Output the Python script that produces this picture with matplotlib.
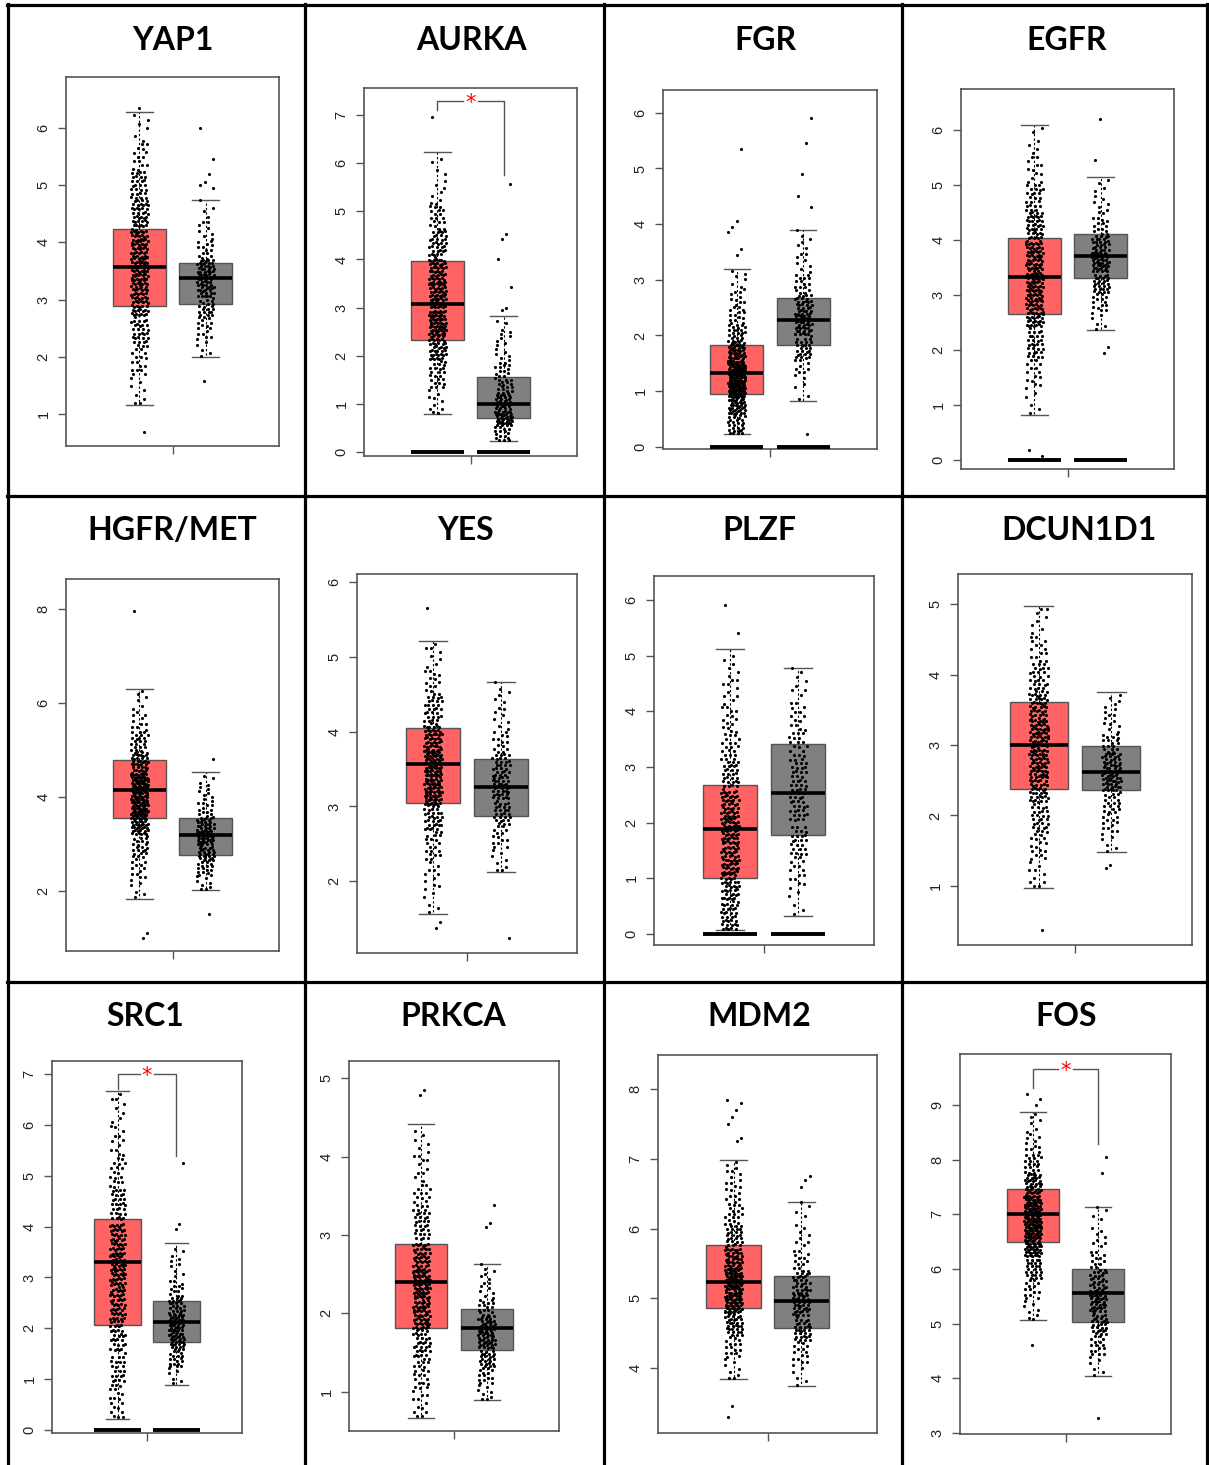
#!/usr/bin/env python3
import matplotlib
matplotlib.use("Agg")
import matplotlib.pyplot as plt

W, H = 1209, 1465

GENES = ["YAP1", "AURKA", "FGR", "EGFR",
         "HGFR/MET", "YES", "PLZF", "DCUN1D1",
         "SRC1", "PRKCA", "MDM2", "FOS"]

# box stats: (whisker low, q1, median, q3, whisker high)
TUMOR_STATS = [
    (1.16, 2.88, 3.57, 4.24, 6.28),
    (0.79, 2.33, 3.07, 3.96, 6.23),
    (0.23, 0.94, 1.33, 1.83, 3.20),
    (0.82, 2.65, 3.33, 4.04, 6.09),
    (1.83, 3.55, 4.15, 4.79, 6.30),
    (1.56, 3.05, 3.57, 4.05, 5.21),
    (0.07, 1.00, 1.89, 2.68, 5.12),
    (0.97, 2.37, 3.00, 3.61, 4.97),
    (0.22, 2.06, 3.31, 4.16, 6.67),
    (0.67, 1.81, 2.40, 2.89, 4.41),
    (3.84, 4.86, 5.23, 5.76, 6.99),
    (5.07, 6.49, 7.00, 7.46, 8.87),
]
NORMAL_STATS = [
    (1.99, 2.93, 3.38, 3.64, 4.74),
    (0.23, 0.71, 1.00, 1.56, 2.82),
    (0.83, 1.82, 2.28, 2.68, 3.90),
    (2.36, 3.31, 3.71, 4.11, 5.15),
    (2.02, 2.76, 3.20, 3.55, 4.53),
    (2.13, 2.87, 3.26, 3.64, 4.67),
    (0.32, 1.78, 2.54, 3.42, 4.78),
    (1.48, 2.36, 2.62, 2.98, 3.75),
    (0.89, 1.73, 2.12, 2.54, 3.67),
    (0.89, 1.53, 1.81, 2.06, 2.63),
    (3.74, 4.57, 4.96, 5.32, 6.38),
    (4.04, 5.03, 5.56, 6.00, 7.13),
]

# estimated dot counts in equal bins between the whiskers (low -> high)
TUMOR_COUNTS = [
    [8, 16, 32, 48, 58, 54, 40, 28, 14, 6],
    [10, 22, 44, 58, 52, 48, 34, 18, 8, 4],
    [24, 42, 78, 64, 42, 24, 14, 10, 6],
    [6, 14, 30, 50, 56, 54, 42, 24, 12, 6],
    [6, 12, 22, 46, 62, 64, 40, 22, 10, 6],
    [6, 10, 18, 34, 60, 64, 48, 28, 14, 8],
    [34, 40, 48, 52, 44, 30, 20, 14, 10, 6],
    [10, 16, 28, 42, 52, 54, 42, 26, 14, 8],
    [16, 24, 34, 46, 54, 48, 30, 18, 12, 8],
    [12, 20, 34, 52, 58, 46, 28, 18, 10, 6],
    [8, 16, 34, 58, 60, 44, 28, 18, 12, 8],
    [8, 14, 26, 48, 62, 58, 38, 20, 10, 6],
]
NORMAL_COUNTS = [
    [6, 12, 22, 34, 38, 14, 8, 4],
    [16, 40, 28, 18, 12, 8, 6, 4],
    [4, 10, 26, 38, 32, 16, 8, 6],
    [6, 14, 28, 38, 30, 14, 8, 4],
    [8, 16, 28, 36, 28, 12, 8, 4],
    [8, 14, 28, 34, 28, 14, 8, 6],
    [6, 14, 24, 28, 26, 20, 14, 8],
    [6, 12, 18, 38, 34, 18, 10, 6],
    [6, 18, 34, 36, 24, 12, 6, 4],
    [8, 14, 24, 34, 30, 16, 8, 6],
    [6, 14, 32, 36, 30, 14, 8, 4],
    [6, 16, 30, 38, 28, 14, 8, 4],
]

# points outside the whiskers
TUMOR_OUT = [
    [0.69, 6.35], [6.95], [5.35, 4.05, 3.95, 3.85, 3.55, 3.45], [0.18, 0.08],
    [7.95, 1.10, 1.00], [5.65, 1.45, 1.38], [5.90, 5.40], [0.37],
    [], [4.85, 4.78], [7.85, 7.80, 7.70, 7.60, 7.50, 7.30, 7.25, 3.45, 3.30],
    [9.20, 9.10, 9.00, 4.60],
]
NORMAL_OUT = [
    [1.58, 6.00, 5.45, 5.20, 5.05, 5.00, 4.95],
    [5.57, 4.52, 4.42, 4.00, 3.42, 3.00, 2.95],
    [5.90, 5.45, 4.90, 4.50, 4.30, 0.23], [6.20, 5.45, 2.05, 1.95],
    [4.80, 1.50], [1.24], [], [1.30, 1.25],
    [5.25, 4.05, 3.95], [3.38, 3.15, 3.10], [6.75, 6.70, 6.60],
    [8.05, 7.75, 3.28],
]

# many samples sitting at zero (drawn as a solid bar)
ZERO_BAR = [False, True, True, True, False, False, True, False,
            True, False, False, False]

YTICKS = [
    [1, 2, 3, 4, 5, 6], [0, 1, 2, 3, 4, 5, 6, 7], [0, 1, 2, 3, 4, 5, 6],
    [0, 1, 2, 3, 4, 5, 6], [2, 4, 6, 8], [2, 3, 4, 5, 6],
    [0, 1, 2, 3, 4, 5, 6], [1, 2, 3, 4, 5], [0, 1, 2, 3, 4, 5, 6, 7],
    [1, 2, 3, 4, 5], [4, 5, 6, 7, 8], [3, 4, 5, 6, 7, 8, 9],
]

# layout (pixels of the reference)
FRAMES = [
    (66, 77, 279, 446), (364, 88, 577, 456), (663, 90, 877, 449),
    (961, 89, 1174, 469), (66, 579, 279, 951), (357, 574, 577, 953),
    (654, 576, 874, 945), (958, 574, 1192, 945), (52, 1061, 242, 1433),
    (349, 1061, 559, 1431), (658, 1055, 877, 1433), (960, 1054, 1171, 1434),
]
YLIMS = [
    (0.44, 6.89), (-0.08, 7.56), (-0.04, 6.41), (-0.16, 6.75),
    (0.72, 8.64), (1.04, 6.11), (-0.20, 6.43), (0.16, 5.43),
    (-0.06, 7.26), (0.50, 5.22), (3.07, 8.49), (2.98, 9.93),
]
TITLE_POS = [
    (173, 40), (471, 40), (765, 40), (1067, 40),
    (172, 530), (466, 530), (759, 530), (1079, 530),
    (145, 1017), (453, 1017), (759, 1017), (1066, 1017),
]
# significance brackets: (top, left end, right end) in data units
SIG = {1: (7.29, 7.10, 5.75), 8: (7.00, 6.70, 5.40), 11: (9.66, 9.30, 8.28)}

RED = "#FF6363"
GREY = "#808080"
EDGE = "#555555"
HALF_SPAN = 1.613
JITTER = 0.13
# R2 low-discrepancy steps, used to spread dots inside a bin
A1, A2 = 0.7548776662, 0.5698402910


def dot_positions(pos, stats, counts, extra):
    lo, hi = stats[0], stats[4]
    w = (hi - lo) / len(counts)
    xs, ys = [], []
    n = 0
    for i, c in enumerate(counts):
        for j in range(c):
            n += 1
            xs.append(pos + JITTER * (2 * ((0.5 + n * A1) % 1.0) - 1))
            ys.append(lo + w * (i + (0.5 + n * A2) % 1.0))
    for v in extra:
        n += 1
        xs.append(pos + JITTER * (2 * ((0.5 + n * A1) % 1.0) - 1))
        ys.append(v)
    return xs, ys


def draw_panel(fig, k):
    x0, y0, x1, y1 = FRAMES[k]
    ax = fig.add_axes([x0 / W, 1 - y1 / H, (x1 - x0) / W, (y1 - y0) / H])
    stats = []
    for s in (TUMOR_STATS[k], NORMAL_STATS[k]):
        stats.append(dict(whislo=s[0], q1=s[1], med=s[2], q3=s[3],
                          whishi=s[4], fliers=[]))
    bp = ax.bxp(stats, positions=[1, 2], widths=0.8, patch_artist=True,
                showfliers=False, capwidths=0.4,
                boxprops=dict(edgecolor=EDGE, linewidth=1.0),
                whiskerprops=dict(color="black", linewidth=0.8,
                                  linestyle=(0, (2, 2))),
                capprops=dict(color=EDGE, linewidth=1.0),
                medianprops=dict(color="black", linewidth=2.6))
    for patch, col in zip(bp["boxes"], (RED, GREY)):
        patch.set_facecolor(col)
        patch.set_zorder(1)
    for m in bp["medians"]:
        m.set_zorder(5)

    groups = [(1, TUMOR_STATS[k], TUMOR_COUNTS[k], TUMOR_OUT[k]),
              (2, NORMAL_STATS[k], NORMAL_COUNTS[k], NORMAL_OUT[k])]
    for pos, st, cnt, out in groups:
        xs, ys = dot_positions(pos, st, cnt, out)
        ax.scatter(xs, ys, s=5, color="black", linewidths=0, zorder=4)
        if ZERO_BAR[k]:
            ax.plot([pos - 0.4, pos + 0.4], [0, 0], color="black",
                    linewidth=2.8, solid_capstyle="butt", zorder=4)

    if k in SIG:
        top, left, right = SIG[k]
        ax.plot([1, 1, 1.38], [left, top, top], color=EDGE, linewidth=1.0)
        ax.plot([1.62, 2, 2], [top, top, right], color=EDGE, linewidth=1.0)
        ax.text(1.5, top, "*", color="red", fontsize=15, ha="center",
                va="center_baseline", family="DejaVu Sans")

    ax.set_xlim(1.5 - HALF_SPAN, 1.5 + HALF_SPAN)
    ax.set_ylim(*YLIMS[k])
    ax.set_xticks([1.5])
    ax.set_xticklabels([""])
    ax.set_yticks(YTICKS[k])
    ax.set_yticklabels([str(t) for t in YTICKS[k]])
    ax.tick_params(axis="both", direction="out", length=6, width=1.0,
                   color=EDGE, pad=5, labelsize=10.5, labelcolor="#222222")
    ax.tick_params(axis="y", labelrotation=90)
    for lab in ax.get_yticklabels():
        lab.set_va("center")
    for sp in ax.spines.values():
        sp.set_color(EDGE)
        sp.set_linewidth(1.2)
    ax.set_facecolor("white")

    tx, ty = TITLE_POS[k]
    fig.text(tx / W, 1 - ty / H, GENES[k], ha="center", va="center",
             fontsize=23, fontweight="bold", family=["Lato", "DejaVu Sans"])


def main():
    plt.rcParams["font.family"] = ["Liberation Sans", "DejaVu Sans"]
    fig = plt.figure(figsize=(W / 100, H / 100), dpi=100)
    fig.patch.set_facecolor("white")

    for k in range(len(GENES)):
        draw_panel(fig, k)

    # table grid
    grid = fig.add_axes([0, 0, 1, 1], zorder=10)
    grid.set_xlim(0, W)
    grid.set_ylim(H, 0)
    grid.axis("off")
    grid.patch.set_alpha(0)
    for x in (8, 305, 604, 902, 1207):
        grid.plot([x, x], [4, H], color="black", linewidth=2.3)
    for y in (5, 496, 982):
        grid.plot([7, 1208], [y, y], color="black", linewidth=2.3)

    fig.savefig("out.png", dpi=100)


if __name__ == "__main__":
    main()
